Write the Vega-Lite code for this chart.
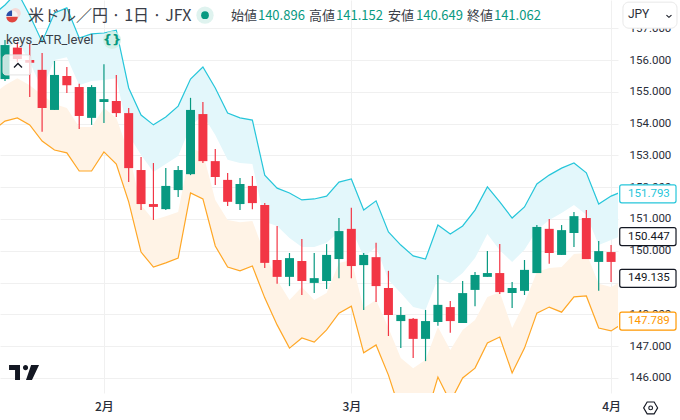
{
  "$schema": "https://vega.github.io/schema/vega-lite/v6.json",
  "width": 618,
  "height": 393,
  "autosize": {"type": "none"},
  "padding": {"left": 0, "top": 0, "right": 62, "bottom": 27},
  "background": "#ffffff",
  "config": {"view": {"stroke": null}},
  "datasets": {
    "candles": [
      {"bar":0,"dir":"up","open":155.40,"high":156.63,"low":155.34,"close":156.47},
      {"bar":1,"dir":"down","open":156.39,"high":156.57,"low":155.94,"close":156.03},
      {"bar":2,"dir":"down","open":156.00,"high":156.50,"low":154.84,"close":155.91},
      {"bar":3,"dir":"down","open":155.69,"high":156.22,"low":153.74,"close":154.49},
      {"bar":4,"dir":"up","open":154.43,"high":155.97,"low":154.43,"close":155.53},
      {"bar":5,"dir":"down","open":155.50,"high":155.78,"low":154.96,"close":155.21},
      {"bar":6,"dir":"down","open":155.15,"high":155.25,"low":153.83,"close":154.24},
      {"bar":7,"dir":"up","open":154.18,"high":155.21,"low":153.96,"close":155.15},
      {"bar":8,"dir":"up","open":154.68,"high":155.87,"low":154.02,"close":154.77},
      {"bar":9,"dir":"down","open":154.71,"high":155.53,"low":154.21,"close":154.33},
      {"bar":10,"dir":"down","open":154.33,"high":154.49,"low":152.16,"close":152.60},
      {"bar":11,"dir":"down","open":152.54,"high":152.95,"low":151.28,"close":151.47},
      {"bar":12,"dir":"down","open":151.47,"high":152.76,"low":150.97,"close":151.38},
      {"bar":13,"dir":"up","open":151.31,"high":152.60,"low":151.28,"close":152.04},
      {"bar":14,"dir":"up","open":151.91,"high":152.67,"low":151.69,"close":152.54},
      {"bar":15,"dir":"up","open":152.41,"high":154.81,"low":152.38,"close":154.43},
      {"bar":16,"dir":"down","open":154.30,"high":154.68,"low":152.76,"close":152.82},
      {"bar":17,"dir":"down","open":152.82,"high":153.20,"low":152.07,"close":152.32},
      {"bar":18,"dir":"down","open":152.23,"high":152.45,"low":151.41,"close":151.54},
      {"bar":19,"dir":"up","open":151.47,"high":152.29,"low":151.28,"close":152.10},
      {"bar":20,"dir":"down","open":152.04,"high":152.35,"low":151.31,"close":151.50},
      {"bar":21,"dir":"down","open":151.44,"high":151.50,"low":149.46,"close":149.62},
      {"bar":22,"dir":"down","open":149.71,"high":150.78,"low":148.96,"close":149.18},
      {"bar":23,"dir":"up","open":149.18,"high":149.93,"low":148.89,"close":149.77},
      {"bar":24,"dir":"down","open":149.68,"high":150.37,"low":148.61,"close":149.05},
      {"bar":25,"dir":"up","open":148.99,"high":149.93,"low":148.67,"close":149.14},
      {"bar":26,"dir":"up","open":149.05,"high":150.21,"low":148.80,"close":149.87},
      {"bar":27,"dir":"up","open":149.74,"high":151.03,"low":149.14,"close":150.62},
      {"bar":28,"dir":"down","open":150.69,"high":151.35,"low":149.14,"close":149.52},
      {"bar":29,"dir":"up","open":149.55,"high":149.93,"low":148.14,"close":149.87},
      {"bar":30,"dir":"down","open":149.80,"high":150.25,"low":148.39,"close":148.89},
      {"bar":31,"dir":"down","open":148.83,"high":149.37,"low":147.32,"close":147.98},
      {"bar":32,"dir":"up","open":147.79,"high":148.23,"low":146.94,"close":147.98},
      {"bar":33,"dir":"down","open":147.86,"high":147.89,"low":146.63,"close":147.23},
      {"bar":34,"dir":"up","open":147.23,"high":148.14,"low":146.53,"close":147.79},
      {"bar":35,"dir":"up","open":147.76,"high":149.24,"low":147.64,"close":148.30},
      {"bar":36,"dir":"down","open":148.23,"high":148.42,"low":147.42,"close":147.79},
      {"bar":37,"dir":"up","open":147.73,"high":149.05,"low":147.73,"close":148.67},
      {"bar":38,"dir":"up","open":148.77,"high":149.33,"low":148.26,"close":149.24},
      {"bar":39,"dir":"up","open":149.18,"high":149.99,"low":149.18,"close":149.30},
      {"bar":40,"dir":"down","open":149.30,"high":150.21,"low":148.64,"close":148.70},
      {"bar":41,"dir":"up","open":148.67,"high":149.02,"low":148.20,"close":148.83},
      {"bar":42,"dir":"up","open":148.74,"high":149.71,"low":148.61,"close":149.40},
      {"bar":43,"dir":"up","open":149.30,"high":150.81,"low":149.30,"close":150.75},
      {"bar":44,"dir":"down","open":150.69,"high":151.00,"low":149.59,"close":149.93},
      {"bar":45,"dir":"up","open":149.87,"high":150.81,"low":149.87,"close":150.65},
      {"bar":46,"dir":"up","open":150.56,"high":151.22,"low":150.12,"close":151.09},
      {"bar":47,"dir":"down","open":151.03,"high":151.28,"low":149.74,"close":149.74},
      {"bar":48,"dir":"up","open":149.65,"high":150.31,"low":148.74,"close":149.99},
      {"bar":49,"dir":"down","open":149.96,"high":150.18,"low":149.02,"close":149.65},
      {"bar":50,"dir":"down","open":149.62,"high":149.62,"low":149.33,"close":149.33}
    ],
    "bands": [
      {"bar":-1,"upper":157.41,"upper_in":155.94,"lower_in":154.90,"lower":153.77},
      {"bar":0,"upper":157.73,"upper_in":156.25,"lower_in":155.21,"lower":154.08},
      {"bar":1,"upper":158.14,"upper_in":156.63,"lower_in":155.43,"lower":154.18},
      {"bar":2,"upper":157.41,"upper_in":155.94,"lower_in":155.21,"lower":153.96},
      {"bar":3,"upper":156.57,"upper_in":155.09,"lower_in":154.90,"lower":153.45},
      {"bar":4,"upper":157.48,"upper_in":156.00,"lower_in":154.62,"lower":153.17},
      {"bar":5,"upper":157.64,"upper_in":156.09,"lower_in":154.49,"lower":153.08},
      {"bar":6,"upper":156.69,"upper_in":155.21,"lower_in":153.89,"lower":152.51},
      {"bar":7,"upper":156.82,"upper_in":155.34,"lower_in":153.89,"lower":152.51},
      {"bar":8,"upper":156.85,"upper_in":155.37,"lower_in":154.49,"lower":153.11},
      {"bar":9,"upper":156.94,"upper_in":155.43,"lower_in":154.18,"lower":152.73},
      {"bar":10,"upper":155.12,"upper_in":153.64,"lower_in":153.08,"lower":151.54},
      {"bar":11,"upper":154.27,"upper_in":153.01,"lower_in":151.44,"lower":149.96},
      {"bar":12,"upper":153.96,"upper_in":152.48,"lower_in":150.97,"lower":149.49},
      {"bar":13,"upper":154.21,"upper_in":152.73,"lower_in":151.09,"lower":149.62},
      {"bar":14,"upper":154.55,"upper_in":152.98,"lower_in":151.22,"lower":149.77},
      {"bar":15,"upper":155.40,"upper_in":153.92,"lower_in":153.23,"lower":151.82},
      {"bar":16,"upper":155.78,"upper_in":154.27,"lower_in":153.08,"lower":151.63},
      {"bar":17,"upper":155.12,"upper_in":153.64,"lower_in":151.60,"lower":150.15},
      {"bar":18,"upper":154.33,"upper_in":152.86,"lower_in":150.97,"lower":149.49},
      {"bar":19,"upper":154.18,"upper_in":152.76,"lower_in":150.90,"lower":149.37},
      {"bar":20,"upper":154.11,"upper_in":152.73,"lower_in":150.94,"lower":149.52},
      {"bar":21,"upper":152.38,"upper_in":150.91,"lower_in":149.90,"lower":148.52},
      {"bar":22,"upper":151.97,"upper_in":150.78,"lower_in":149.08,"lower":147.67},
      {"bar":23,"upper":151.82,"upper_in":150.40,"lower_in":148.45,"lower":146.94},
      {"bar":24,"upper":151.60,"upper_in":150.12,"lower_in":148.86,"lower":147.26},
      {"bar":25,"upper":151.63,"upper_in":150.12,"lower_in":148.45,"lower":147.13},
      {"bar":26,"upper":151.72,"upper_in":150.25,"lower_in":148.67,"lower":147.51},
      {"bar":27,"upper":152.16,"upper_in":150.59,"lower_in":149.62,"lower":148.04},
      {"bar":28,"upper":152.26,"upper_in":150.72,"lower_in":149.71,"lower":148.26},
      {"bar":29,"upper":151.28,"upper_in":149.80,"lower_in":148.20,"lower":146.79},
      {"bar":30,"upper":151.57,"upper_in":150.12,"lower_in":148.45,"lower":147.04},
      {"bar":31,"upper":150.59,"upper_in":149.08,"lower_in":147.57,"lower":146.09},
      {"bar":32,"upper":150.18,"upper_in":148.67,"lower_in":146.63,"lower":144.90},
      {"bar":33,"upper":149.84,"upper_in":148.23,"lower_in":146.31,"lower":144.52},
      {"bar":34,"upper":149.74,"upper_in":148.14,"lower_in":146.57,"lower":144.71},
      {"bar":35,"upper":150.81,"upper_in":149.14,"lower_in":147.60,"lower":146.03},
      {"bar":36,"upper":150.53,"upper_in":148.99,"lower_in":146.88,"lower":145.25},
      {"bar":37,"upper":150.78,"upper_in":149.30,"lower_in":147.51,"lower":146.00},
      {"bar":38,"upper":151.28,"upper_in":149.77,"lower_in":147.82,"lower":146.31},
      {"bar":39,"upper":152.01,"upper_in":150.53,"lower_in":148.55,"lower":147.10},
      {"bar":40,"upper":151.54,"upper_in":150.02,"lower_in":148.70,"lower":147.29},
      {"bar":41,"upper":151.03,"upper_in":149.65,"lower_in":147.57,"lower":146.16},
      {"bar":42,"upper":151.38,"upper_in":150.03,"lower_in":148.36,"lower":146.94},
      {"bar":43,"upper":152.10,"upper_in":150.65,"lower_in":149.33,"lower":148.04},
      {"bar":44,"upper":152.38,"upper_in":150.97,"lower_in":149.46,"lower":148.23},
      {"bar":45,"upper":152.60,"upper_in":151.19,"lower_in":149.49,"lower":148.07},
      {"bar":46,"upper":152.76,"upper_in":151.44,"lower_in":149.90,"lower":148.55},
      {"bar":47,"upper":152.45,"upper_in":151.13,"lower_in":149.93,"lower":148.58},
      {"bar":48,"upper":151.47,"upper_in":150.18,"lower_in":148.96,"lower":147.57},
      {"bar":49,"upper":151.72,"upper_in":150.34,"lower_in":148.86,"lower":147.48},
      {"bar":50,"upper":151.88,"upper_in":150.50,"lower_in":149.08,"lower":147.73}
    ],
    "tags": [
      {"label":"151.793","price":151.793,"top":152.076,"bottom":151.51,"kind":"upper"},
      {"label":"150.447","price":150.447,"top":150.73,"bottom":150.164,"kind":"plain"},
      {"label":"149.135","price":149.135,"top":149.418,"bottom":148.852,"kind":"plain"},
      {"label":"147.789","price":147.789,"top":148.072,"bottom":147.506,"kind":"lower"}
    ],
    "header": [
      {"bar":18.27,"price":157.38,"label":"始値","kind":"name"},
      {"bar":20.45,"price":157.38,"label":"140.896","kind":"value"},
      {"bar":24.58,"price":157.38,"label":"高値","kind":"name"},
      {"bar":26.76,"price":157.38,"label":"141.152","kind":"value"},
      {"bar":30.96,"price":157.38,"label":"安値","kind":"name"},
      {"bar":33.23,"price":157.38,"label":"140.649","kind":"value"},
      {"bar":37.35,"price":157.38,"label":"終値","kind":"name"},
      {"bar":39.53,"price":157.38,"label":"141.062","kind":"value"}
    ]
  },
  "layer": [
    {
      "data": {"name": "bands"},
      "mark": {"type": "area", "color": "#e3f7fb", "clip": true},
      "encoding": {
        "x": {
          "field": "bar",
          "type": "quantitative",
          "title": null,
          "scale": {"domain": [-0.404, 49.56], "nice": false, "zero": false, "padding": 0},
          "axis": {
            "values": [8, 28, 49],
            "labelExpr": "datum.value == 8 ? '2月' : datum.value == 28 ? '3月' : '4月'",
            "grid": true,
            "gridColor": "#f0f0f0",
            "domain": false,
            "ticks": false,
            "labelFont": "Noto Sans CJK JP",
            "labelFontSize": 12,
            "labelFontWeight": 500,
            "labelColor": "#2a2e39",
            "labelPadding": 8
          }
        },
        "y": {
          "field": "upper",
          "type": "quantitative",
          "title": null,
          "scale": {"domain": [145.528, 157.887], "nice": false, "zero": false},
          "axis": {
            "orient": "right",
            "values": [146, 147, 148, 149, 150, 151, 152, 153, 154, 155, 156, 157],
            "tickCount": 20,
            "format": ".3f",
            "grid": true,
            "gridColor": "#f0f0f0",
            "domain": false,
            "ticks": false,
            "labelFont": "Roboto",
            "labelFontSize": 11.5,
            "labelColor": "#2a2e39",
            "labelPadding": 11,
            "labelOverlap": false
          }
        },
        "y2": {"field": "upper_in"}
      }
    },
    {
      "data": {"name": "bands"},
      "mark": {"type": "area", "color": "#fff3e6", "clip": true},
      "encoding": {
        "x": {"field": "bar", "type": "quantitative"},
        "y": {"field": "lower_in", "type": "quantitative"},
        "y2": {"field": "lower"}
      }
    },
    {
      "data": {"name": "bands"},
      "mark": {"type": "line", "color": "#26c6da", "strokeWidth": 1.2, "clip": true},
      "encoding": {
        "x": {"field": "bar", "type": "quantitative"},
        "y": {"field": "upper", "type": "quantitative"}
      }
    },
    {
      "data": {"name": "bands"},
      "mark": {"type": "line", "color": "#ffa726", "strokeWidth": 1.2, "clip": true},
      "encoding": {
        "x": {"field": "bar", "type": "quantitative"},
        "y": {"field": "lower", "type": "quantitative"}
      }
    },
    {
      "data": {"name": "candles"},
      "mark": {"type": "rule", "strokeWidth": 1.2, "clip": true},
      "encoding": {
        "x": {"field": "bar", "type": "quantitative"},
        "y": {"field": "high", "type": "quantitative"},
        "y2": {"field": "low"},
        "color": {
          "field": "dir",
          "type": "nominal",
          "legend": null,
          "scale": {"domain": ["up", "down"], "range": ["#089981", "#f23645"]}
        }
      }
    },
    {
      "data": {"name": "candles"},
      "mark": {"type": "bar", "size": 9, "clip": true},
      "encoding": {
        "x": {"field": "bar", "type": "quantitative"},
        "y": {"field": "open", "type": "quantitative"},
        "y2": {"field": "close"},
        "color": {
          "field": "dir",
          "type": "nominal",
          "legend": null,
          "scale": {"domain": ["up", "down"], "range": ["#089981", "#f23645"]}
        }
      }
    },
    {
      "data": {"name": "tags"},
      "mark": {"type": "rect", "fill": "#ffffff", "strokeWidth": 1.2, "cornerRadius": 2},
      "encoding": {
        "x": {"datum": 49.7},
        "x2": {"datum": 54.25},
        "y": {"field": "top", "type": "quantitative"},
        "y2": {"field": "bottom"},
        "stroke": {
          "field": "kind",
          "type": "nominal",
          "legend": null,
          "scale": {"domain": ["upper", "plain", "lower"], "range": ["#26c6da", "#131722", "#ff9800"]}
        }
      }
    },
    {
      "data": {"name": "tags"},
      "mark": {"type": "text", "font": "Roboto", "fontSize": 11.5, "align": "center", "baseline": "middle"},
      "encoding": {
        "x": {"datum": 52.06},
        "y": {"field": "price", "type": "quantitative"},
        "text": {"field": "label"},
        "color": {
          "field": "kind",
          "type": "nominal",
          "legend": null,
          "scale": {"domain": ["upper", "plain", "lower"], "range": ["#26c6da", "#131722", "#ff9800"]}
        }
      }
    },
    {
      "data": {"values": [{"label": "米ドル／円 · 1日 · JFX"}]},
      "mark": {"type": "text", "font": "Noto Sans CJK JP", "fontSize": 16, "align": "left", "baseline": "middle", "color": "#3a3e48"},
      "encoding": {
        "x": {"datum": 1.86},
        "y": {"datum": 157.38},
        "text": {"field": "label"}
      }
    },
    {
      "data": {"name": "header"},
      "mark": {"type": "text", "font": "Noto Sans CJK JP", "fontSize": 13, "align": "left", "baseline": "middle"},
      "encoding": {
        "x": {"field": "bar", "type": "quantitative"},
        "y": {"field": "price", "type": "quantitative"},
        "text": {"field": "label"},
        "color": {
          "field": "kind",
          "type": "nominal",
          "legend": null,
          "scale": {"domain": ["name", "value"], "range": ["#3a3e48", "#089981"]}
        }
      }
    },
    {
      "data": {"values": [{"label": "keys_ATR_level"}]},
      "mark": {"type": "text", "font": "Roboto", "fontSize": 13, "align": "left", "baseline": "middle", "color": "#3a3e48"},
      "encoding": {
        "x": {"datum": 0.08},
        "y": {"datum": 156.63},
        "text": {"field": "label"}
      }
    },
    {
      "data": {"values": [{"k": "a"}]},
      "mark": {"type": "point", "shape": "circle", "filled": true, "size": 320, "color": "#cfeee6", "opacity": 0.9},
      "encoding": {"x": {"datum": 8.65}, "y": {"datum": 156.63}}
    },
    {
      "data": {"values": [{"label": "{}"}]},
      "mark": {"type": "text", "font": "DejaVu Sans", "fontSize": 13, "fontWeight": "bold", "align": "center", "baseline": "middle", "color": "#089981"},
      "encoding": {"x": {"datum": 8.65}, "y": {"datum": 156.63}, "text": {"field": "label"}}
    },
    {
      "data": {"values": [{"k": "a"}]},
      "mark": {"type": "point", "shape": "circle", "filled": true, "size": 300, "color": "#dff3ef", "opacity": 1},
      "encoding": {"x": {"datum": 16.17}, "y": {"datum": 157.41}}
    },
    {
      "data": {"values": [{"k": "a"}]},
      "mark": {"type": "point", "shape": "circle", "filled": true, "size": 60, "color": "#089981", "opacity": 1},
      "encoding": {"x": {"datum": 16.17}, "y": {"datum": 157.41}}
    },
    {
      "data": {"values": [{"k": "a"}]},
      "mark": {"type": "rect", "fill": "#ffffff", "fillOpacity": 0.75, "stroke": "#e3e3e3", "cornerRadius": 3},
      "encoding": {
        "x": {"datum": -0.16},
        "x2": {"datum": 2.1},
        "y": {"datum": 156.16},
        "y2": {"datum": 155.53}
      }
    },
    {
      "data": {"values": [{"k": "a"}]},
      "mark": {"type": "point", "shape": "M-1,0.6 L0,-0.4 L1,0.6", "size": 64, "filled": false, "color": "#131722", "strokeWidth": 1.3, "opacity": 1},
      "encoding": {"x": {"datum": 1.05}, "y": {"datum": 155.84}}
    },
    {
      "data": {"values": [{"k": "a"}]},
      "mark": {"type": "point", "shape": "circle", "filled": true, "size": 110, "color": "#f5d9d6", "opacity": 1},
      "encoding": {"x": {"datum": 0.85}, "y": {"datum": 157.47}}
    },
    {
      "data": {"values": [{"k": "a"}]},
      "mark": {"type": "point", "shape": "circle", "filled": true, "size": 130, "color": "#f4f4f4", "opacity": 1},
      "encoding": {"x": {"datum": 0.57}, "y": {"datum": 157.38}}
    },
    {
      "data": {"values": [{"k": "a"}]},
      "mark": {"type": "point", "shape": "M-1,0.1 L1,0.1 A1,1 0 0 1 -1,0.1 Z", "filled": true, "size": 130, "color": "#e0453f", "opacity": 1},
      "encoding": {"x": {"datum": 0.57}, "y": {"datum": 157.38}}
    },
    {
      "data": {"values": [{"k": "a"}]},
      "mark": {"type": "point", "shape": "M-1,0 A1,1 0 0 1 0,-1 L0,0 Z", "filled": true, "size": 130, "color": "#2a4fa8", "opacity": 1},
      "encoding": {"x": {"datum": 0.57}, "y": {"datum": 157.38}}
    },
    {
      "data": {"values": [{"k": "a"}]},
      "mark": {
        "type": "point",
        "shape": "M-1,-.5 L-.27,-.5 L-.27,.5 L-.6,.5 L-.6,-.17 L-1,-.17 Z M-.07,-.33 A.17,.17 0 1 1 .27,-.33 A.17,.17 0 1 1 -.07,-.33 Z M.47,-.5 L1,-.5 L.53,.5 L.13,.5 Z",
        "filled": true,
        "size": 900,
        "color": "#131722",
        "opacity": 1
      },
      "encoding": {"x": {"datum": 1.54}, "y": {"datum": 146.17}}
    },
    {
      "data": {"values": [{"k": "a"}]},
      "mark": {"type": "rect", "fill": "#ffffff", "stroke": "#e8e8e8", "cornerRadius": 6},
      "encoding": {
        "x": {"datum": 49.96},
        "x2": {"datum": 54.33},
        "y": {"datum": 157.82},
        "y2": {"datum": 157.0}
      }
    },
    {
      "data": {"values": [{"label": "JPY"}]},
      "mark": {"type": "text", "font": "Roboto", "fontSize": 12, "align": "left", "baseline": "middle", "color": "#2a2e39"},
      "encoding": {"x": {"datum": 50.36}, "y": {"datum": 157.45}, "text": {"field": "label"}}
    },
    {
      "data": {"values": [{"k": "a"}]},
      "mark": {"type": "point", "shape": "M-1,-0.4 L0,0.5 L1,-0.4", "size": 25, "filled": false, "color": "#131722", "strokeWidth": 1.1, "opacity": 1},
      "encoding": {"x": {"datum": 53.68}, "y": {"datum": 157.38}}
    },
    {
      "data": {"values": [{"k": "a"}]},
      "mark": {"type": "point", "shape": "M-1,0 L-.5,-.85 L.5,-.85 L1,0 L.5,.85 L-.5,.85 Z", "size": 196, "filled": false, "color": "#131722", "strokeWidth": 1.1, "opacity": 1},
      "encoding": {"x": {"datum": 52.2}, "y": {"datum": 145.06}}
    },
    {
      "data": {"values": [{"k": "a"}]},
      "mark": {"type": "point", "shape": "circle", "size": 14, "filled": false, "color": "#131722", "strokeWidth": 1.1, "opacity": 1},
      "encoding": {"x": {"datum": 52.2}, "y": {"datum": 145.06}}
    }
  ],
  "resolve": {"scale": {"color": "independent", "stroke": "independent"}}
}
